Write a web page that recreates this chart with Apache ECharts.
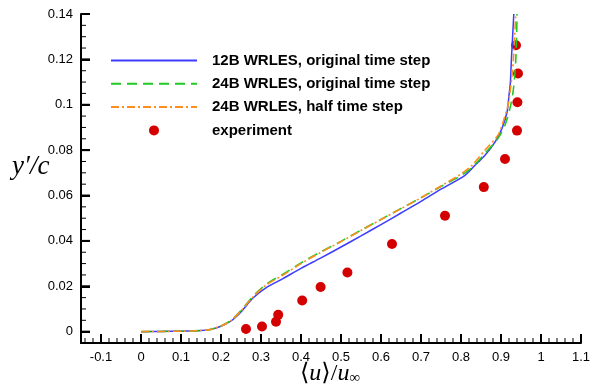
<!DOCTYPE html>
<html>
<head>
<meta charset="utf-8">
<script src="https://cdn.jsdelivr.net/npm/echarts@6/dist/echarts.min.js"></script>
<style>html,body{margin:0;padding:0;background:#fff;}#c{width:599px;height:391px;}</style>
</head>
<body>
<div id="c"></div>
<script>
const seriesNames = ['12B WRLES, original time step', '24B WRLES, original time step', '24B WRLES, half time step', 'experiment'];

const les12Orig = [[0,0],[0.05,0.0001],[0.1,0.0002],[0.15,0.0005],[0.175,0.001],[0.2,0.0024],[0.225,0.0047],[0.25,0.0087],[0.28,0.0148],[0.315,0.0196],[0.355,0.0234],[0.4,0.0279],[0.45,0.0325],[0.5,0.0373],[0.55,0.0422],[0.6,0.0472],[0.65,0.0523],[0.7,0.0574],[0.75,0.0628],[0.81,0.0689],[0.835,0.0733],[0.86,0.0777],[0.885,0.0835],[0.9025,0.0896],[0.915,0.0967],[0.92,0.1042],[0.9235,0.11],[0.926,0.12],[0.929,0.13],[0.932,0.14]];

const les24Orig = [[0,0],[0.05,0.0001],[0.1,0.0002],[0.15,0.0005],[0.175,0.001],[0.2,0.0025],[0.225,0.005],[0.25,0.0093],[0.28,0.0156],[0.315,0.0211],[0.355,0.0253],[0.4,0.0303],[0.45,0.0352],[0.5,0.0398],[0.55,0.0447],[0.6,0.0495],[0.65,0.0543],[0.7,0.059],[0.75,0.064],[0.8,0.0688],[0.8275,0.0724],[0.86,0.0786],[0.8925,0.0852],[0.91,0.091],[0.9225,0.0985],[0.93,0.1055],[0.934,0.112],[0.937,0.12],[0.939,0.13],[0.94,0.14]];

const les24Half = [[0,0],[0.05,0.0001],[0.1,0.0002],[0.15,0.0005],[0.175,0.001],[0.2,0.0025],[0.225,0.0049],[0.25,0.0092],[0.28,0.0153],[0.315,0.0208],[0.355,0.0249],[0.4,0.03],[0.45,0.035],[0.5,0.0397],[0.55,0.0446],[0.6,0.0494],[0.65,0.0542],[0.7,0.059],[0.75,0.0642],[0.8,0.0695],[0.8275,0.0733],[0.86,0.08],[0.8925,0.0866],[0.905,0.0923],[0.9175,0.0998],[0.9225,0.1055],[0.927,0.112],[0.931,0.12],[0.934,0.13],[0.937,0.14]];

const experiment = [[0.2625,0.0012],[0.3025,0.0023],[0.3375,0.0044],[0.343,0.0074],[0.403,0.0137],[0.449,0.0197],[0.516,0.0261],[0.6275,0.0386],[0.76,0.0511],[0.857,0.0637],[0.91,0.0761],[0.94,0.0886],[0.941,0.1011],[0.9425,0.1138],[0.9375,0.1262]];

const xTicks = [-0.1,0,0.1,0.2,0.3,0.4,0.5,0.6,0.7,0.8,0.9,1,1.1];
const xMinorTicks = [-0.14,-0.12,-0.08,-0.06,-0.04,-0.02,0.02,0.04,0.06,0.08,0.12,0.14,0.16,0.18,0.22,0.24,0.26,0.28,0.32,0.34,0.36,0.38,0.42,0.44,0.46,0.48,0.52,0.54,0.56,0.58,0.62,0.64,0.66,0.68,0.72,0.74,0.76,0.78,0.82,0.84,0.86,0.88,0.92,0.94,0.96,0.98,1.02,1.04,1.06,1.08];
const yTicks = [0,0.02,0.04,0.06,0.08,0.1,0.12,0.14];
const yMinorTicks = [0.005,0.01,0.015,0.025,0.03,0.035,0.045,0.05,0.055,0.065,0.07,0.075,0.085,0.09,0.095,0.105,0.11,0.115,0.125,0.13,0.135];

const X_MIN = -0.15, X_MAX = 1.1, Y_MIN = -0.005, Y_MAX = 0.14;
const font = 'Liberation Sans, Arial, sans-serif';
const serif = 'Liberation Serif, DejaVu Serif, serif';

function tickSeries(values, horizontalAxis, len, width) {
  return {
    type: 'custom', silent: true, z: 9, clip: false,
    data: values.map(v => horizontalAxis ? [v, Y_MIN] : [X_MIN, v]),
    renderItem: function (params, api) {
      const p = api.coord([api.value(0), api.value(1)]);
      const shape = horizontalAxis
        ? {x1: p[0], y1: p[1], x2: p[0], y2: p[1] - len}
        : {x1: p[0], y1: p[1], x2: p[0] + len, y2: p[1]};
      return {type: 'line', shape: shape, style: {stroke: '#000', lineWidth: width, fill: null}};
    }
  };
}

const chart = echarts.init(document.getElementById('c'), null, {renderer: 'canvas'});
chart.setOption({
  animation: false,
  grid: {left: 81, right: 18, top: 14, bottom: 48},
  legend: {
    orient: 'vertical', left: 110, top: 53, padding: 0, itemWidth: 86, itemHeight: 10, itemGap: 8.3,
    data: [
      {name: seriesNames[0], itemStyle: {opacity: 0}},
      {name: seriesNames[1], itemStyle: {opacity: 0}},
      {name: seriesNames[2], itemStyle: {opacity: 0}},
      {name: seriesNames[3]}
    ],
    textStyle: {fontFamily: font, fontSize: 15, fontWeight: 'bold', color: '#000', lineHeight: 15, padding: [0,0,0,10]}
  },
  xAxis: {
    type: 'value', min: X_MIN, max: X_MAX,
    axisLine: {onZero: false, lineStyle: {color: '#000', width: 2}},
    axisTick: {show: true, inside: true, length: 9, customValues: xTicks, lineStyle: {color: '#000', width: 2}},
    axisLabel: {customValues: xTicks, color: '#000', fontFamily: font, fontSize: 13},
    splitLine: {show: false}
  },
  yAxis: {
    type: 'value', min: Y_MIN, max: Y_MAX,
    axisLine: {onZero: false, lineStyle: {color: '#000', width: 2}},
    axisTick: {show: true, inside: true, length: 9, customValues: yTicks, lineStyle: {color: '#000', width: 2}},
    axisLabel: {customValues: yTicks, color: '#000', fontFamily: font, fontSize: 13},
    splitLine: {show: false}
  },
  graphic: [{
    type: 'text', left: 12, top: 153,
    style: {text: 'y′/c', font: 'italic 27px ' + serif, fill: '#000'}
  }, {
    type: 'text', left: 300, top: 362,
    style: {
      text: '{n|⟨}{i|u}{n|⟩/}{i|u}{s|∞}',
      rich: {
        n: {font: '24px ' + serif, fill: '#000', verticalAlign: 'bottom'},
        i: {font: 'italic 24px ' + serif, fill: '#000', verticalAlign: 'bottom'},
        s: {font: '15px ' + serif, fill: '#000', padding: [10,0,0,0], verticalAlign: 'bottom'}
      }
    }
  }],
  series: [{
    name: seriesNames[0], type: 'line', data: les12Orig, symbol: 'none', smooth: 0.3,
    lineStyle: {color: '#3c3cff', width: 1.5}, itemStyle: {color: '#3c3cff'}
  }, {
    name: seriesNames[1], type: 'line', data: les24Orig, symbol: 'none', smooth: 0.3,
    lineStyle: {color: '#22c922', width: 1.6, type: [10, 6]}, itemStyle: {color: '#22c922'}
  }, {
    name: seriesNames[2], type: 'line', data: les24Half, symbol: 'none', smooth: 0.3,
    lineStyle: {color: '#ff8c1e', width: 1.6, type: [8, 3, 2, 3]}, itemStyle: {color: '#ff8c1e'}
  }, {
    name: seriesNames[3], type: 'scatter', data: experiment, symbol: 'circle', symbolSize: 10,
    itemStyle: {color: '#d40000', opacity: 1}
  },
  tickSeries(xTicks, true, 9, 2),
  tickSeries(xMinorTicks, true, 5, 1),
  tickSeries(yTicks, false, 9, 2),
  tickSeries(yMinorTicks, false, 5, 1)
  ]
});
</script>
</body>
</html>
